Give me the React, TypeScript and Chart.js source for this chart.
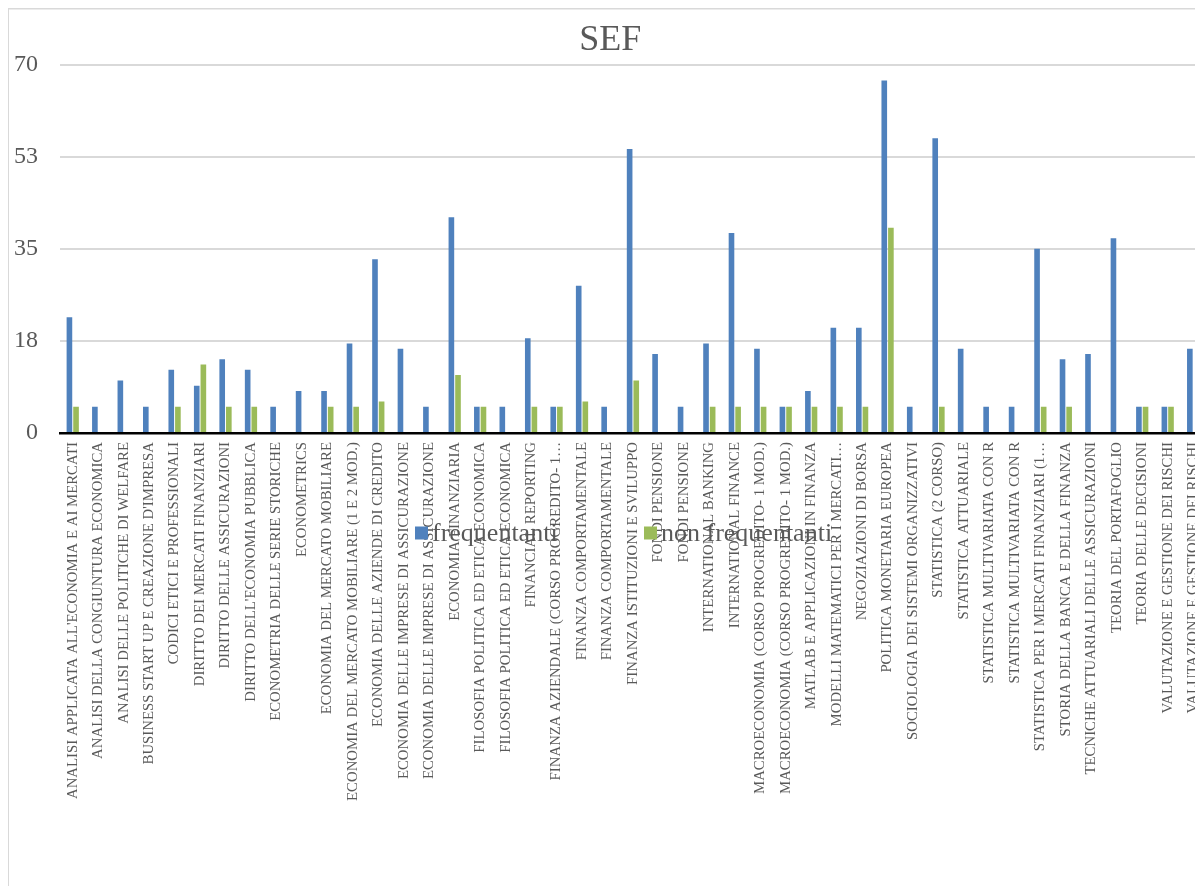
import React, { useEffect, useRef } from 'react';
import { Chart, registerables } from 'chart.js';

Chart.register(...registerables);

const title = 'SEF';

const categories = [
  "ANALISI APPLICATA ALL'ECONOMIA E AI MERCATI",
  'ANALISI DELLA CONGIUNTURA ECONOMICA',
  'ANALISI DELLE POLITICHE DI WELFARE',
  "BUSINESS START UP E CREAZIONE D'IMPRESA",
  'CODICI ETICI E PROFESSIONALI',
  'DIRITTO DEI MERCATI FINANZIARI',
  'DIRITTO DELLE ASSICURAZIONI',
  "DIRITTO DELL'ECONOMIA PUBBLICA",
  'ECONOMETRIA DELLE SERIE STORICHE',
  'ECONOMETRICS',
  'ECONOMIA DEL MERCATO MOBILIARE',
  'ECONOMIA DEL MERCATO MOBILIARE (1 E 2 MOD.)',
  'ECONOMIA DELLE AZIENDE DI CREDITO',
  'ECONOMIA DELLE IMPRESE DI ASSICURAZIONE',
  'ECONOMIA DELLE IMPRESE DI ASSICURAZIONE',
  'ECONOMIA FINANZIARIA',
  'FILOSOFIA POLITICA ED ETICA ECONOMICA',
  'FILOSOFIA POLITICA ED ETICA ECONOMICA',
  'FINANCIAL REPORTING',
  'FINANZA AZIENDALE (CORSO PROGREDITO- 1…',
  'FINANZA COMPORTAMENTALE',
  'FINANZA COMPORTAMENTALE',
  'FINANZA ISTITUZIONI E SVILUPPO',
  'FONDI PENSIONE',
  'FONDI PENSIONE',
  'INTERNATIONAL BANKING',
  'INTERNATIONAL FINANCE',
  'MACROECONOMIA (CORSO PROGREDITO- 1 MOD.)',
  'MACROECONOMIA (CORSO PROGREDITO- 1 MOD.)',
  'MATLAB E APPLICAZIONI IN FINANZA',
  'MODELLI MATEMATICI PER I MERCATI…',
  'NEGOZIAZIONI DI BORSA',
  'POLITICA MONETARIA EUROPEA',
  'SOCIOLOGIA DEI SISTEMI ORGANIZZATIVI',
  'STATISTICA (2 CORSO)',
  'STATISTICA ATTUARIALE',
  'STATISTICA MULTIVARIATA CON R',
  'STATISTICA MULTIVARIATA CON R',
  'STATISTICA PER I MERCATI FINANZIARI (1…',
  'STORIA DELLA BANCA E DELLA FINANZA',
  'TECNICHE ATTUARIALI DELLE ASSICURAZIONI',
  'TEORIA DEL PORTAFOGLIO',
  'TEORIA DELLE DECISIONI',
  'VALUTAZIONE E GESTIONE DEI RISCHI',
  'VALUTAZIONE E GESTIONE DEI RISCHI',
];

const frequentanti = [
  22, 5, 10, 5, 12, 9, 14, 12, 5, 8,
  8, 17, 33, 16, 5, 41, 5, 5, 18, 5,
  28, 5, 54, 15, 5, 17, 38, 16, 5, 8,
  20, 20, 67, 5, 56, 16, 5, 5, 35, 14,
  15, 37, 5, 5, 16,
];

const nonFrequentanti = [
  5, 0, 0, 0, 5, 13, 5, 5, 0, 0,
  5, 5, 6, 0, 0, 11, 5, 0, 5, 5,
  6, 0, 10, 0, 0, 5, 5, 5, 5, 5,
  5, 5, 39, 0, 5, 0, 0, 0, 5, 5,
  0, 0, 5, 5, 0,
];

const seriesNames = ['frequentanti', 'non frequentanti'];
const yMin = 0;
const yMax = 70;
const yStep = 17.5;

const BLUE = '#4F81BD';
const GREEN = '#9BBB59';
const TEXT = '#595959';
const FONT = "'Liberation Serif', 'DejaVu Serif', serif";

const CANVAS_W = 1212;
const CANVAS_H = 878;

export default function App() {
  const ref = useRef<HTMLCanvasElement | null>(null);

  useEffect(() => {
    if (!ref.current) return;
    const legendPlugin = {
      id: 'customLegend',
      beforeDraw(chart: any) {
        const ctx = chart.ctx;
        ctx.save();
        ctx.fillStyle = '#ffffff';
        ctx.fillRect(0, 0, chart.width, chart.height);
        ctx.strokeStyle = '#D9D9D9';
        ctx.lineWidth = 2;
        ctx.beginPath();
        ctx.moveTo(0, chart.height);
        ctx.lineTo(0, 0.5);
        ctx.lineTo(chart.width, 0.5);
        ctx.stroke();
        ctx.restore();
      },
      afterDraw(chart: any) {
        const ctx = chart.ctx;
        const cx = 597;
        const y = 525;
        const offsets = [-190, 39];
        ctx.save();
        ctx.font = `26px ${FONT}`;
        ctx.textBaseline = 'middle';
        ctx.textAlign = 'left';
        chart.data.datasets.forEach((ds: any, i: number) => {
          const x = cx + offsets[i];
          ctx.fillStyle = ds.backgroundColor;
          ctx.fillRect(x, y - 6.5, 13, 13);
          ctx.fillStyle = TEXT;
          ctx.fillText(ds.label, x + 17, y + 1);
        });
        ctx.restore();
      },
    };

    const chart = new Chart(ref.current, {
      type: 'bar',
      data: {
        labels: categories,
        datasets: [
          {
            label: seriesNames[0],
            data: frequentanti,
            backgroundColor: BLUE,
            categoryPercentage: 0.52,
            barPercentage: 0.85,
          },
          {
            label: seriesNames[1],
            data: nonFrequentanti,
            backgroundColor: GREEN,
            categoryPercentage: 0.52,
            barPercentage: 0.85,
          },
        ],
      },
      options: {
        responsive: false,
        animation: false,
        devicePixelRatio: 1,
        layout: { padding: { left: 0, right: 7.5, top: 0, bottom: 0 } },
        plugins: {
          legend: { display: false },
          tooltip: { enabled: false },
          title: {
            display: true,
            text: title,
            color: TEXT,
            font: { family: FONT, size: 36, weight: 'normal' },
            padding: { top: 11, bottom: 2.5 },
          },
        },
        scales: {
          x: {
            offset: true,
            grid: { display: false, drawTicks: false },
            border: { display: true, color: '#000000', width: 2.5 },
            ticks: {
              autoSkip: false,
              maxRotation: 90,
              minRotation: 90,
              padding: 9,
              color: TEXT,
              font: { family: FONT, size: 14.8 },
            },
            afterFit(scale: any) {
              scale.height = CANVAS_H - 425;
            },
          },
          y: {
            min: yMin,
            max: yMax,
            grid: { color: '#D9D9D9', lineWidth: 2, drawTicks: false },
            border: { display: false },
            ticks: {
              stepSize: yStep,
              padding: 22,
              color: TEXT,
              font: { family: FONT, size: 24 },
              callback: (v: any) => String(Math.round(Number(v))),
            },
            afterFit(scale: any) {
              scale.width = 52;
            },
          },
        },
      },
      plugins: [legendPlugin],
    } as any);
    return () => chart.destroy();
  }, []);

  return (
    <div style={{ width: 1195, height: CANVAS_H, overflow: 'hidden', position: 'relative' }}>
      <canvas ref={ref} width={CANVAS_W} height={CANVAS_H} style={{ width: CANVAS_W, height: CANVAS_H, display: 'block' }} />
    </div>
  );
}
